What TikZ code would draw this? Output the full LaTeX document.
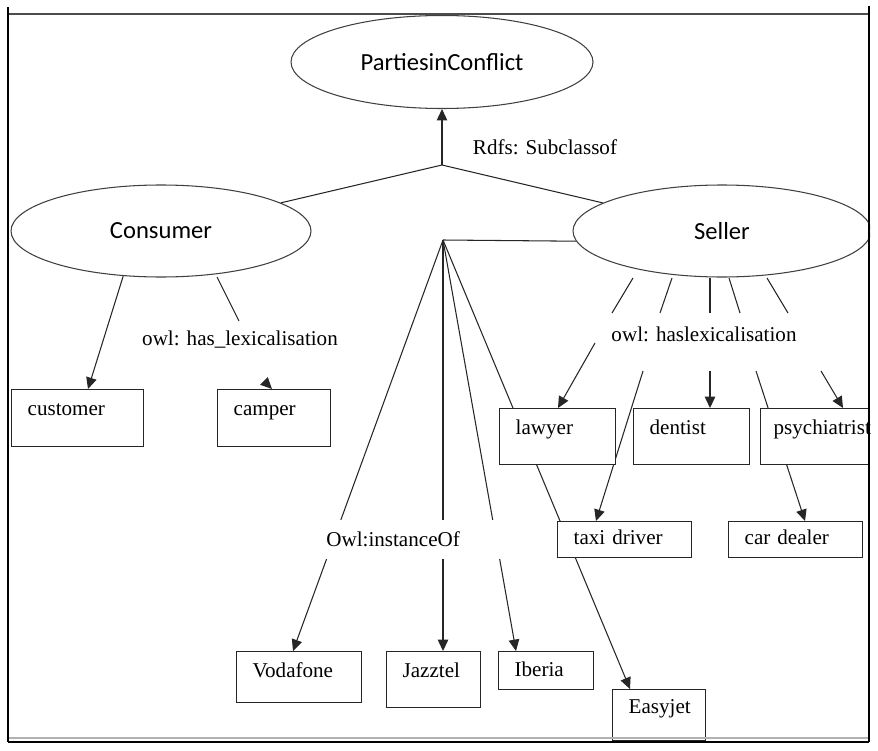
\documentclass[tikz,border=0pt]{standalone}
\usepackage{fontspec}
\setmainfont{Liberation Serif}
\newfontfamily\calibrifont{Carlito}
\usepackage{tikz}
\usetikzlibrary{arrows.meta,shapes.geometric,backgrounds}
\newdimen\pxu
\pxu=0.02cm
\tikzset{
  cls/.style={ellipse, draw=black!75, line width=0.6pt, fill=white, inner sep=0pt,
              minimum width=300\pxu, minimum height=92\pxu, font=\calibrifont\fontsize{14}{16}\selectfont},
  term/.style={rectangle, draw=black!85, line width=0.75pt, fill=white, anchor=north west,
               align=left, inner xsep=16\pxu, inner ysep=0pt, text height=26\pxu,
               font=\fontsize{12}{14}\selectfont},
  rel/.style={inner sep=0pt, font=\fontsize{12}{14}\selectfont},
  link/.style={line width=0.6pt, black!85},
  arrow/.style={link, -{Triangle[length=6.5pt,width=6pt]}},
}

\begin{document}
\begin{tikzpicture}[x=0.02cm, y=-0.02cm]
\useasboundingbox (0,0) rectangle (878,750);

\begin{scope}
\clip (8,14) rectangle (870,742);
\node[cls, minimum width=302\pxu, minimum height=93\pxu] (conflict) at (442,62) {PartiesinConflict};
\node[cls] (consumer) at (161,231) {Consumer};
\node[cls, minimum width=298\pxu] (seller) at (722,231) {Seller};

\node[term, text width=100\pxu, text depth=31\pxu] (customer) at (11,389) {customer};
\node[term, text width=81\pxu, text depth=31\pxu] (camper) at (217,389) {camper};
\node[term, text width=84\pxu, text depth=30\pxu] (lawyer) at (499,408) {lawyer};
\node[term, text width=84\pxu, text depth=30\pxu] (dentist) at (633,408) {dentist};
\node[term, text width=82\pxu, inner xsep=13\pxu, text depth=30\pxu] (psychiatrist) at (760,408) {psychiatrist};
\node[term, text width=102\pxu, text height=23\pxu, text depth=13\pxu] (taxi) at (557,521) {taxi driver};
\node[term, text width=102\pxu, text height=23\pxu, text depth=13\pxu] (cardealer) at (728,521) {car dealer};
\node[term, text width=93\pxu, text depth=25\pxu] (vodafone) at (236,651) {Vodafone};
\node[term, text width=62\pxu, text depth=30\pxu] (jazztel) at (386,651) {Jazztel};
\node[term, text width=63\pxu, text height=25\pxu, text depth=13\pxu] (iberia) at (498,651) {Iberia};
\node[term, text width=61\pxu, text height=24\pxu, text depth=27\pxu] (easyjet) at (612,689) {Easyjet};

\node[rel] (subof) at (545,147) {Rdfs: Subclassof};
\node[rel] (conlex) at (240,340) {owl: has\_lexicalisation};
\node[rel] (sellex) at (704,334) {owl: haslexicalisation};
\node[rel, fill=white, anchor=west, align=left, text width=173\pxu, inner xsep=6\pxu,
      minimum height=39\pxu] (instof) at (320,539.5) {Owl:instanceOf};
\end{scope}

\begin{scope}[on background layer]
\coordinate (subJ) at (442,165);
\draw[link] (consumer) -- (subJ) -- (seller);
\draw[arrow] (subJ) -- (conflict);

\coordinate (conA) at (217,277);
\coordinate (conB) at (239,321);
\coordinate (camTail) at (264,381);
\draw[link] (conA) -- (conB);
\draw[arrow] (consumer.230) -- ([xshift=77\pxu]customer.north west);
\draw[arrow] (camTail) -- ([xshift=55\pxu]camper.north west);

\foreach \x/\y [count=\i] in {633/612, 672/660, 710/710, 729/740, 767/788}{
  \coordinate (fanS\i) at (\x,278);
  \coordinate (fanE\i) at (\y,313);
  \draw[link] (fanS\i) -- (fanE\i);
}
\coordinate (lexL) at (595,343);
\coordinate (lexT) at (643,371);
\coordinate (lexD) at (710,371);
\coordinate (lexC) at (756,371);
\coordinate (lexP) at (821,371);
\foreach \s/\t/\o in {lexL/lawyer/59, lexT/taxi/39, lexD/dentist/77, lexC/cardealer/77, lexP/psychiatrist/83}
  \draw[arrow] (\s) -- ([xshift=\o\pxu]\t.north west);

\coordinate (hubI) at (443,240);
\draw[link] (hubI) -- (seller.184);
\foreach \t/\o in {vodafone/57, jazztel/57, iberia/18, easyjet/18}
  \draw[arrow] (hubI) -- ([xshift=\o\pxu]\t.north west);
\end{scope}

% screenshot frame
\draw[line width=1pt, black!70] (8,14) -- (870,14);
\draw[line width=1.5pt] (8,7) -- (8,742);
\draw[line width=1.5pt] (869,6) -- (869,742);
\draw[line width=1pt, black!30] (9,738) -- (868,738);
\draw[line width=1.5pt] (8,742) -- (869,742);
\end{tikzpicture}
\end{document}
